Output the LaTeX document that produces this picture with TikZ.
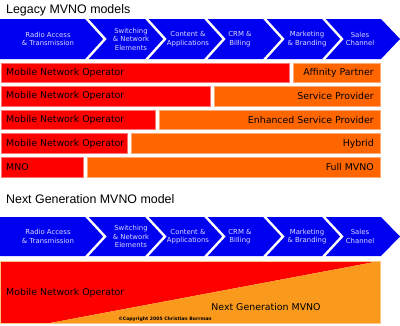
\documentclass[tikz,border=0pt]{standalone}
\usepackage{fontspec}
\setmainfont{DejaVu Sans}
\newfontfamily\titlefont{Liberation Sans}
\usetikzlibrary{positioning}
\definecolor{figBlue}{HTML}{0000F0}
\definecolor{figLilac}{HTML}{D8D8FF}
\definecolor{figRed}{HTML}{FF0000}
\definecolor{figOrange}{HTML}{FF6600}
\definecolor{figAmber}{HTML}{F99A1C}

\begin{document}
\begin{tikzpicture}[
  x=1pt, y=-1pt,
  chev/.style={fill=figBlue},
  notch/.style={draw=white, line width=2.4pt},
  chevtext/.style={font=\fontsize{6.9}{8.5}\selectfont, text=figLilac, align=center, inner sep=0pt},
  title/.style={font=\titlefont\fontsize{12.4}{14}\selectfont, anchor=west, inner sep=0pt},
  mno/.style={fill=figRed, draw=figRed!55!white, line width=0.8pt},
  mvno/.style={fill=figOrange, draw=figOrange!55!white, line width=0.8pt},
  bartext/.style={font=\fontsize{9.4}{11}\selectfont, inner sep=0pt}
]
\useasboundingbox (0,0) rectangle (400,325);

% Titles
\node[title] (legacy) at (6,10) {Legacy MVNO models};
\node[title] (nextgen) at (6,199) {Next Generation MVNO model};

% Value chain chevrons (two rows)
\foreach \row/\t/\b in {a/19/59, b/217/256} {
  \pgfmathsetmacro\m{(\t+\b)/2}
  \fill[chev] (0,\t) -- (381,\t) -- (400,\m) -- (381,\b) -- (0,\b) -- cycle;
  \foreach \n in {86,146,205,264,323}
    \draw[notch] (\n,\t-1) -- (\n+19,\m) -- (\n,\b+1);
  \foreach \i/\x/\txt in {1/48/{Radio Access\\\& Transmission},
                          2/131/{Switching\\\& Network\\Elements},
                          3/188/{Content \&\\Applications},
                          4/240/{CRM \&\\Billing},
                          5/307/{Marketing\\\& Branding},
                          6/360/{Sales\\Channel}}
    \node[chevtext] (\row\i) at (\x,\m) {\txt};
}

% Legacy models: MNO part and MVNO part
\foreach \i/\e/\lname/\rname in {0/289/Mobile Network Operator/Affinity Partner,
                                 1/210/Mobile Network Operator/Service Provider,
                                 2/155/Mobile Network Operator/Enhanced Service Provider,
                                 3/127/Mobile Network Operator/Hybrid,
                                 4/83/MNO/Full MVNO} {
  \pgfmathsetmacro\t{63+23.6*\i}
  \draw[mno] (1,\t) rectangle (\e,\t+19.5);
  \draw[mvno] (\e+4,\t) rectangle (380,\t+19.5);
  \node[bartext, anchor=west] (mno\i) at (6,\t+9.75) {\lname};
  \node[bartext, anchor=east] (mvno\i) at (374,\t+9.75) {\rname};
}

% Next generation model
\fill[figRed] (0,261) -- (380,261) -- (50,323) -- (0,323) -- cycle;
\fill[figAmber] (50,323) -- (380,261) -- (380,323) -- cycle;
\draw[figAmber!55!white, line width=0.8pt] (0.4,261) rectangle (380,323);
\node[bartext, anchor=west] (mnoNext) at (6,293) {Mobile Network Operator};
\node[bartext] (mvnoNext) at (266,307) {Next Generation MVNO};
\node[font=\bfseries\fontsize{4.6}{5}\selectfont, inner sep=0pt] (copyright) at (165,319)
  {©Copyright 2005 Christian Borrman};
\end{tikzpicture}
\end{document}
